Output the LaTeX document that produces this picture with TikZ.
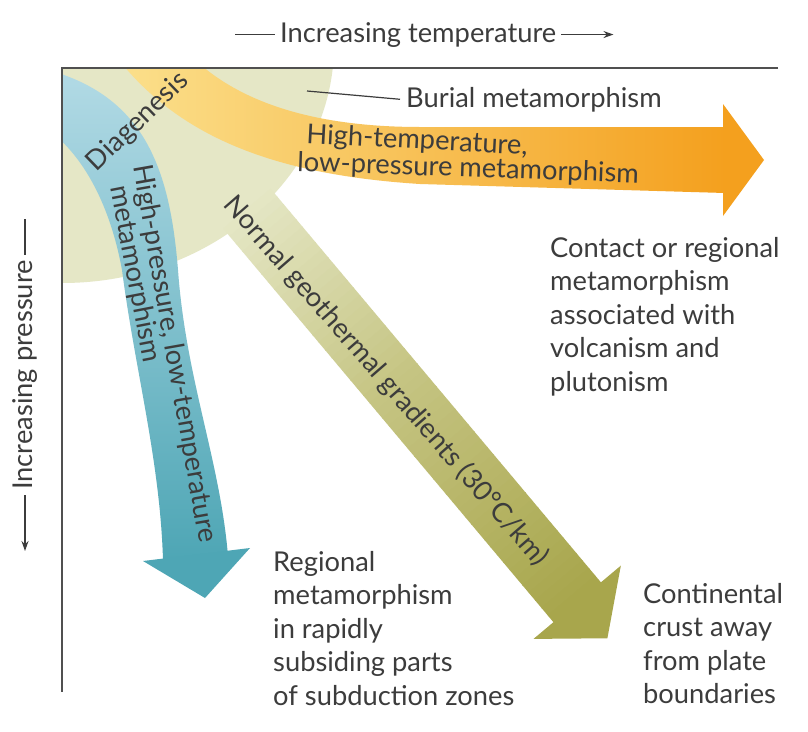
\documentclass[tikz,border=0pt]{standalone}
\usepackage{fontspec}
\setmainfont{Lato}
\usetikzlibrary{arrows.meta}
\definecolor{blobc}{RGB}{229,231,198}
\definecolor{blueTop}{RGB}{178,218,229}
\definecolor{blueBot}{RGB}{78,166,181}
\definecolor{orL}{RGB}{251,224,140}
\definecolor{orM}{RGB}{248,196,84}
\definecolor{orR}{RGB}{244,160,30}
\definecolor{olM}{RGB}{198,197,132}
\definecolor{olD}{RGB}{168,166,76}
\definecolor{txt}{RGB}{60,60,60}
\definecolor{axisc}{RGB}{80,80,80}
\begin{document}
\begin{tikzpicture}[x=1pt,y=-1pt,
  lbl/.style={font=\fontsize{27.3}{33.5}\selectfont, text=txt, inner sep=0pt},
  blk/.style={lbl, align=left, anchor=north west},
  axisline/.style={draw=axisc, line width=1.6pt},
  guide/.style={draw=txt, line width=1.2pt},
  tipguide/.style={guide, -{Stealth[length=10pt,width=7pt]}},
]
\fill[white] (0,0) rectangle (808,731);
\useasboundingbox (0,0) rectangle (808,731);

\begin{scope}
  \clip (62,68) rectangle (808,731);
  % diagenesis zone
  \fill[blobc] (62,45) ellipse [x radius=272, y radius=238];
  % olive band (normal geothermal gradient)
  \begin{scope}[shift={(196,148)}, rotate=-50]
    \foreach \i in {0,...,59}{
      \pgfmathtruncatemacro{\pa}{min(100,max(0,(\i-7)*100/23))}
      \pgfmathtruncatemacro{\pb}{min(100,max(0,(\i-30)*100/29))}
      \fill[olD!\pb!olM!\pa!blobc] ({\i*9.9},-31) -- ({(\i+1)*9.9+1},-31) -- ({(\i+1)*9.9+1},31) -- ({\i*9.9},31) -- cycle;
    }
    \fill[olD] (593,-57) -- (640,0) -- (593,57) -- cycle;
  \end{scope}
  % blue band
  \shade[top color=blueTop, bottom color=blueBot]
    (55,72) .. controls (145,100) and (170,170) .. (178,270)
    .. controls (186,380) and (220,460) .. (228,556)
    -- (163,560) .. controls (160,460) and (135,370) .. (122,270)
    .. controls (112,215) and (90,165) .. (55,135) -- cycle;
  \fill[blueBot] (143,561) -- (205,598) -- (250,548) -- cycle;
  % orange band
  \shade[left color=orL, middle color=orM, right color=orR]
    (190,55) .. controls (240,105) and (320,127) .. (420,127)
    -- (725,127) -- (725,193) -- (420,184)
    .. controls (280,175) and (180,140) .. (115,55) -- cycle;
  \fill[orR] (723,104) -- (764,160) -- (723,216) -- cycle;
\end{scope}

% frame
\coordinate (origin) at (62,68);
\coordinate (tend) at (778,68);
\coordinate (pend) at (62,692);
\draw[axisline] (tend) -- (origin) -- (pend);

% band labels
\node[lbl, rotate=44] (diag) at (138,122) {Diagenesis};
\node[lbl, anchor=base west, rotate=-80] (hp1) at (133,166) {High-pressure, low-temperature};
\node[lbl, anchor=base west, rotate=-79] (hp2) at (110,187) {metamorphism};
\node[lbl, anchor=base west, rotate=-3] (ht1) at (306,143) {High-temperature,};
\node[lbl, anchor=base west, rotate=-2] (ht2) at (297,171) {low-pressure metamorphism};
\node[lbl, rotate=-49] (normal) at (386,381) {Normal geothermal gradients (30\textdegree C/km)};

% burial
\node[lbl, anchor=base west, inner xsep=6pt] (burial) at (400,107) {Burial metamorphism};
\coordinate (bstart) at (307,91);
\draw[guide] (bstart) -- (burial.west);

% axis labels
\node[lbl, anchor=base west, inner xsep=5pt] (tlabel) at (275,42) {Increasing temperature};
\path (tlabel.west) ++(-40,0) coordinate (tl);
\path (tlabel.east) ++(52,0) coordinate (tr);
\draw[guide] (tl) -- (tlabel.west);
\draw[tipguide] (tlabel.east) -- (tr);

\node[lbl, rotate=90, inner xsep=5pt] (plabel) at (25,375) {Increasing pressure};
\path (plabel.east) ++(0,-36) coordinate (ptop);
\path (plabel.west) ++(0,56) coordinate (pbot);
\draw[guide] (ptop) -- (plabel.east);
\draw[tipguide] (plabel.west) -- (pbot);

% outcome labels
\node[blk] (contact) at (550,237) {Contact or regional\\metamorphism\\associated with\\volcanism and\\plutonism};
\node[blk] (regional) at (273,551) {Regional\\metamorphism\\in rapidly\\subsiding parts\\of subduction zones};
\node[blk] (continental) at (643,583) {Continental\\crust away\\from plate\\boundaries};
\end{tikzpicture}
\end{document}
